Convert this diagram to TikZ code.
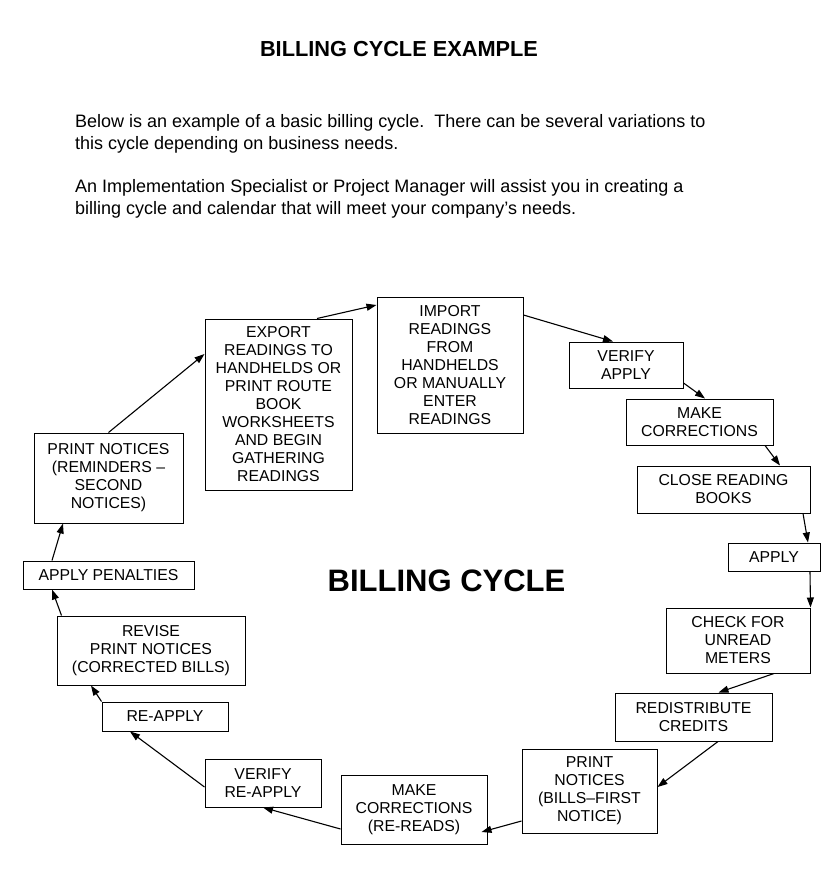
\documentclass[tikz,border=0pt]{standalone}
\usepackage{fontspec}
\setmainfont{Liberation Sans}
\usetikzlibrary{arrows.meta, positioning}

\begin{document}
\begin{tikzpicture}[x=1pt, y=-1pt,
    stepbox/.style={draw, line width=1pt, align=center, inner sep=0pt,
        font=\fontsize{15.8}{18}\selectfont},
    flow/.style={-{Triangle[length=10pt,width=7pt]}, line width=1.1pt}]
    \fill[white] (0,0) rectangle (840,873);
    \useasboundingbox (0,0) rectangle (840,873);
    % heading and intro text
    \node[font=\fontsize{21.75}{24}\selectfont\bfseries] (title) at (399,49.5)
        {BILLING CYCLE EXAMPLE};
    \node[anchor=north west, inner sep=0pt, align=left,
        font=\fontsize{18}{21.5}\selectfont] (introA) at (75,114.5)
        {Below is an example of a basic billing cycle.\ \ There can be several variations to\\
         this cycle depending on business needs.};
    \node[anchor=north west, inner sep=0pt, align=left,
        font=\fontsize{18}{21.5}\selectfont] (introB) at (75,179.5)
        {An Implementation Specialist or Project Manager will assist you in creating a\\
         billing cycle and calendar that will meet your company’s needs.};
    \node[font=\fontsize{31}{34}\selectfont\bfseries] (cycle) at (446.5,581) {BILLING CYCLE};
    % the steps, clockwise from the top
    \node[stepbox, minimum width=147pt, minimum height=171pt] (export) at (278.5,404.5)
        {EXPORT\\READINGS TO\\HANDHELDS OR\\PRINT ROUTE\\BOOK\\WORKSHEETS\\AND BEGIN\\GATHERING\\READINGS};
    \node[stepbox, minimum width=146pt, minimum height=136pt] (import) at (450,365)
        {IMPORT\\READINGS\\FROM\\HANDHELDS\\OR MANUALLY\\ENTER\\READINGS};
    \node[stepbox, minimum width=114pt, minimum height=46pt] (verify) at (626,365)
        {VERIFY\\APPLY};
    \node[stepbox, minimum width=147pt, minimum height=46pt] (correct) at (699.5,422)
        {MAKE\\CORRECTIONS};
    \node[stepbox, minimum width=173pt, minimum height=47pt] (close) at (723.5,489.5)
        {CLOSE READING\\BOOKS};
    \node[stepbox, minimum width=92pt, minimum height=28pt] (apply) at (774,557)
        {APPLY};
    \node[stepbox, minimum width=144pt, minimum height=65pt] (unread) at (738,640.5)
        {CHECK FOR\\UNREAD\\METERS};
    \node[stepbox, minimum width=157pt, minimum height=48pt] (credits) at (693.5,717)
        {REDISTRIBUTE\\CREDITS};
    \node[stepbox, minimum width=135pt, minimum height=84pt] (bills) at (589.5,791)
        {PRINT\\NOTICES\\(BILLS--FIRST\\NOTICE)};
    \node[stepbox, minimum width=146pt, minimum height=69pt] (rereads) at (414,809.5)
        {MAKE\\CORRECTIONS\\(RE-READS)};
    \node[stepbox, minimum width=116pt, minimum height=48pt] (verifyre) at (263,783)
        {VERIFY\\RE-APPLY};
    \node[stepbox, minimum width=126pt, minimum height=29pt] (reapply) at (165,716.5)
        {RE-APPLY};
    \node[stepbox, minimum width=188pt, minimum height=69pt] (revise) at (151,650.5)
        {REVISE\\PRINT NOTICES\\(CORRECTED BILLS)};
    \node[stepbox, minimum width=171pt, minimum height=28pt] (penalty) at (108.5,575)
        {APPLY PENALTIES};
    \node[stepbox, minimum width=149pt, minimum height=90pt] (reminder) at (108.5,478)
        {PRINT NOTICES\\(REMINDERS --\\SECOND\\NOTICES)};
    % arrows
    \draw[flow] (reminder.north) -- ([yshift=50.5pt]export.west);
    \draw[flow] ([xshift=38.5pt]export.north) -- ([yshift=60pt]import.west);
    \draw[flow] ([yshift=50pt]import.east) -- ([xshift=-13pt]verify.north);
    \draw[flow] ([yshift=-18pt]verify.east) -- ([xshift=5.5pt]correct.north);
    \draw[flow] ([xshift=65.5pt]correct.south) -- ([xshift=56.5pt]close.north);
    \draw[flow] ([xshift=79.5pt]close.south) -- ([xshift=34pt]apply.north);
    \draw[flow] ([xshift=36pt]apply.south) -- (unread.north east);
    \draw[flow] ([xshift=36pt]unread.south) -- ([xshift=25pt]credits.north);
    \draw[flow] ([xshift=24.5pt]credits.south) -- ([yshift=4pt]bills.east);
    \draw[flow] ([yshift=-30pt]bills.west) -- ([xshift=-6pt,yshift=-22.5pt]rereads.east);
    \draw[flow] ([yshift=-19.5pt]rereads.west) -- (verifyre.south);
    \draw[flow] ([yshift=-4pt]verifyre.west) -- ([xshift=-35pt]reapply.south);
    \draw[flow] (reapply.north west) -- ([xshift=-60pt]revise.south);
    \draw[flow] ([xshift=5pt]revise.north west) -- ([xshift=-56.5pt]penalty.south);
    \draw[flow] ([xshift=-56.5pt]penalty.north) -- ([xshift=-45.5pt]reminder.south);
\end{tikzpicture}
\end{document}
